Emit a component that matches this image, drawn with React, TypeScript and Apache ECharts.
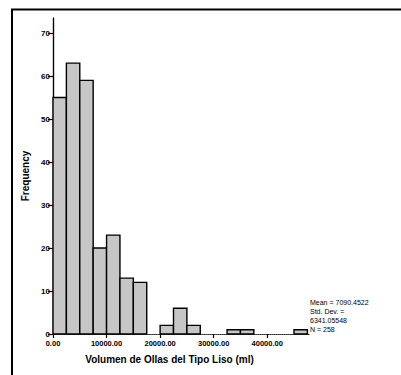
import React, { useEffect, useRef } from "react";
import * as echarts from "echarts";

const binStarts = [0, 2500, 5000, 7500, 10000, 12500, 15000, 17500, 20000, 22500, 25000, 27500, 30000, 32500, 35000, 37500, 40000, 42500, 45000];
const counts = [55, 63, 59, 20, 23, 13, 12, 0, 2, 6, 2, 0, 0, 1, 1, 0, 0, 0, 1];
const binWidth = 2500;
const xTicks = [0, 10000, 20000, 30000, 40000];
const yTicks = [0, 10, 20, 30, 40, 50, 60, 70];
const statLines = ["Mean = 7090.4522", "Std. Dev. =", "6341.05548", "N = 258"];
const xTitle = "Volumen de Ollas del Tipo Liso (ml)";
const yTitle = "Frequency";

const FONT = "Liberation Sans, Arial, sans-serif";

export default function App() {
  const ref = useRef<HTMLDivElement>(null);
  useEffect(() => {
    if (!ref.current) return;
    const chart = echarts.init(ref.current, undefined, { renderer: "svg" });
    const data = binStarts.map((s, i) => [s, counts[i]]);
    chart.setOption({
      animation: false,
      backgroundColor: "#ffffff",
      grid: { left: 53, top: 18, width: 256, height: 316 },
      xAxis: [
        {
          type: "value",
          min: 0,
          max: 47800,
          position: "bottom",
          splitLine: { show: false },
          axisLine: { show: true, lineStyle: { color: "#000", width: 1.2 } },
          axisTick: { show: true, length: 4, customValues: xTicks, lineStyle: { color: "#000", width: 1.2 } },
          axisLabel: {
            customValues: xTicks,
            formatter: (v: number) => v.toFixed(2),
            fontSize: 7.5,
            fontFamily: FONT,
            fontWeight: "bold",
            color: "#000",
            margin: 5,
          },
          name: xTitle,
          nameLocation: "middle",
          nameGap: 20,
          nameTextStyle: { fontSize: 10, fontWeight: "bold", fontFamily: FONT, color: "#000", padding: [0, 23, 0, 0] },
        },
        {
          type: "value",
          min: 0,
          max: 47800,
          position: "top",
          splitLine: { show: false },
          axisLine: { show: true, lineStyle: { color: "#555", width: 1, type: "dotted" } },
          axisTick: { show: false },
          axisLabel: { show: false },
        },
      ],
      yAxis: [
        {
          type: "value",
          min: 0,
          max: 73.5,
          position: "left",
          splitLine: { show: false },
          axisLine: { show: true, lineStyle: { color: "#000", width: 1.2 } },
          axisTick: { show: true, length: 5, customValues: yTicks, lineStyle: { color: "#000", width: 1.2 } },
          axisLabel: {
            customValues: yTicks,
            fontSize: 8,
            fontFamily: FONT,
            fontWeight: "bold",
            color: "#000",
            margin: 3,
          },
          name: yTitle,
          nameLocation: "middle",
          nameGap: 22,
          nameTextStyle: { fontSize: 10, fontWeight: "bold", fontFamily: FONT, color: "#000" },
        },
        {
          type: "value",
          min: 0,
          max: 73.5,
          position: "right",
          splitLine: { show: false },
          axisLine: { show: true, lineStyle: { color: "#000", width: 1.2 } },
          axisTick: { show: false },
          axisLabel: { show: false },
        },
      ],
      series: [
        {
          type: "custom",
          xAxisIndex: 0,
          yAxisIndex: 0,
          data,
          encode: { x: 0, y: 1 },
          renderItem: (_params: any, api: any) => {
            const x0 = api.value(0);
            const c = api.value(1);
            if (!c) return null;
            const p1 = api.coord([x0, c]);
            const p2 = api.coord([x0 + binWidth, 0]);
            return {
              type: "rect",
              shape: { x: p1[0], y: p1[1], width: p2[0] - p1[0], height: p2[1] - p1[1] },
              style: { fill: "#c6c6c6", stroke: "#000", lineWidth: 1.4 },
            };
          },
        },
      ],
      graphic: [
        { type: "line", shape: { x1: 12, y1: 9, x2: 12, y2: 375 }, style: { stroke: "#000", lineWidth: 2 } },
        { type: "line", shape: { x1: 11, y1: 9.5, x2: 401, y2: 9.5 }, style: { stroke: "#000", lineWidth: 2 } },
        {
          type: "text",
          x: 310,
          y: 298,
          style: {
            text: statLines.join("\n"),
            fontSize: 7,
            fontFamily: FONT,
            fill: "#000",
            lineHeight: 9,
          },
        },
      ],
    });
    return () => chart.dispose();
  }, []);
  return <div ref={ref} style={{ position: "fixed", left: 0, top: 0, width: 401, height: 375 }} />;
}
